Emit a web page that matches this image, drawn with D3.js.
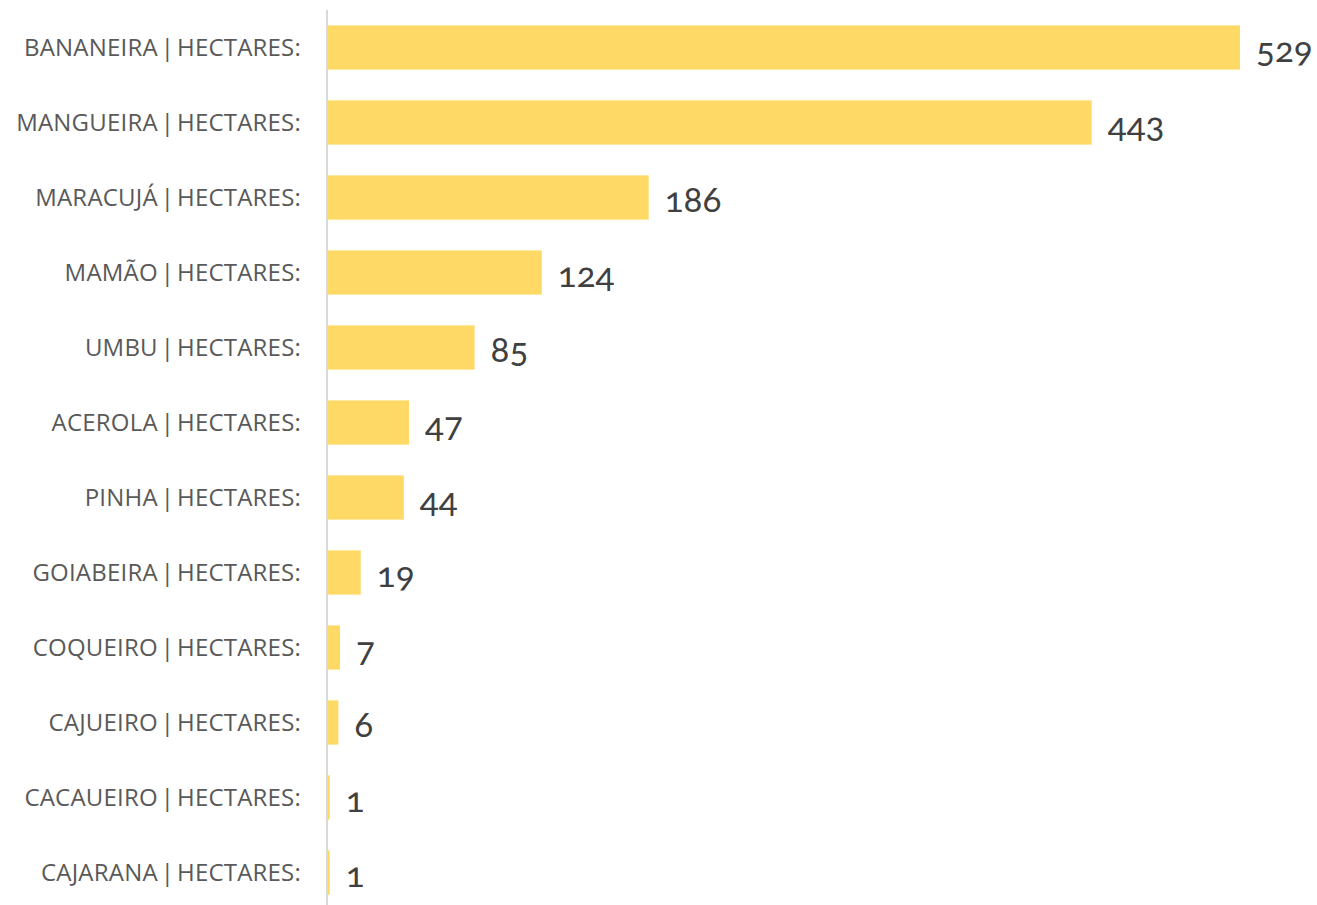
<!DOCTYPE html>
<html>
<head>
<meta charset="utf-8">
<script src="https://cdn.jsdelivr.net/npm/d3@7"></script>
<style>
  html, body { margin: 0; padding: 0; background: #fff; }
  svg { display: block; }
</style>
</head>
<body>
<svg id="chart" width="1317" height="905"></svg>
<script>
const categories = ["BANANEIRA", "MANGUEIRA", "MARACUJÁ", "MAMÃO", "UMBU", "ACEROLA", "PINHA", "GOIABEIRA", "COQUEIRO", "CAJUEIRO", "CACAUEIRO", "CAJARANA"];
const labelSuffix = " | HECTARES:";
const values = [529, 443, 186, 124, 85, 47, 44, 19, 7, 6, 1, 1];

const svg = d3.select("#chart");
const margin = { left: 327, top: 10, right: 77, bottom: -5 };
const W = 1317, H = 905;

const y = d3.scaleBand()
  .domain(categories)
  .range([margin.top, H - margin.bottom])
  .paddingInner(0.41)
  .paddingOuter(0.205);

const x = d3.scaleLinear()
  .domain([0, 529])
  .range([margin.left + 1, 1240]);

const data = categories.map((c, i) => ({ cat: c, value: values[i] }));

// bars
svg.append("g").selectAll("rect")
  .data(data)
  .join("rect")
  .attr("x", x(0))
  .attr("y", d => y(d.cat))
  .attr("width", d => Math.max(0, x(d.value) - x(0)))
  .attr("height", y.bandwidth())
  .attr("fill", "#FFD966");

// axis (category labels)
const yAxis = d3.axisLeft(y)
  .tickSize(0)
  .tickPadding(26)
  .tickFormat(d => d + labelSuffix);

const gy = svg.append("g")
  .attr("transform", `translate(${margin.left},0)`)
  .call(yAxis);
gy.select(".domain").remove();
gy.selectAll("text")
  .attr("fill", "#595959")
  .attr("dy", "0.36em")
  .style("font-family", "'Open Sans', 'Noto Sans', sans-serif")
  .style("font-size", "24px")
  .style("letter-spacing", "0.2px")
  .style("word-spacing", "-3.5px");

// axis line
svg.append("line")
  .attr("x1", margin.left).attr("x2", margin.left)
  .attr("y1", margin.top).attr("y2", H)
  .attr("stroke", "#D9D9D9")
  .attr("stroke-width", 2);

// value labels
svg.append("g").selectAll("text")
  .data(data)
  .join("text")
  .attr("x", d => x(d.value) + 16)
  .attr("y", d => y(d.cat) + y.bandwidth() / 2)
  .attr("dy", "0.42em")
  .attr("fill", "#404040")
  .style("font-family", "Lato, 'Open Sans', sans-serif")
  .style("font-size", "35px")
  .style("font-variant-numeric", "oldstyle-nums")
  .text(d => d.value);
</script>
</body>
</html>
